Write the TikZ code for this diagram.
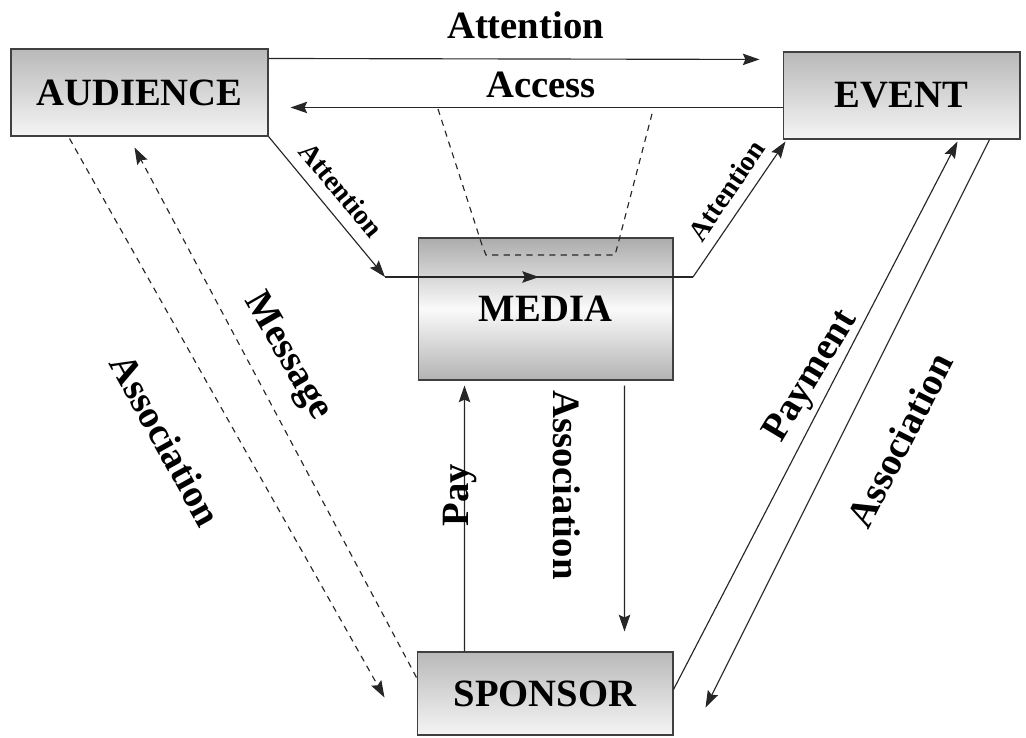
\documentclass[tikz,border=0pt]{standalone}
\usepackage{fontspec}
\setmainfont{Liberation Serif}
\usetikzlibrary{arrows.meta,calc}
\tikzset{
  box/.style={
    draw=black!75,
    line width=0.6pt,
    shading=axis,
    top color=gray!55,
    bottom color=gray!8,
    inner sep=0pt,
    font=\fontsize{22}{26}\selectfont\bfseries
  },
  box-media/.style={
    box,
    top color=gray!65,
    bottom color=gray!60,
    middle color=gray!4
  },
  arr/.style={
    draw=black!85,
    line width=0.65pt,
    -{Stealth[length=9.5pt,width=6.5pt,inset=1.5pt]}
  },
  plain/.style={draw=black!85, line width=0.65pt},
  dash-line/.style={dash pattern=on 3.5pt off 3pt},
  lbl/.style={inner sep=1pt, font=\fontsize{22}{26}\selectfont\bfseries},
  lbl-small/.style={inner sep=1pt, font=\fontsize{16}{19}\selectfont\bfseries}
}

\begin{document}
\begin{tikzpicture}[x=0.02cm, y=-0.02cm]
  \useasboundingbox (0,0) rectangle (1026,737);

  % boxes
  \node[box, minimum width=5.14cm, minimum height=1.74cm] (audience) at (139.5,92.5) {AUDIENCE};
  \node[box, minimum width=4.74cm, minimum height=1.74cm] (event) at (901.5,95.5) {EVENT};
  \node[box-media, minimum width=5.1cm, minimum height=2.84cm] (media) at (545.5,309) {MEDIA};
  \node[box, minimum width=5.12cm, minimum height=1.66cm] (sponsor) at (545,693.5) {SPONSOR};

  % top arrows
  \draw[arr, shorten >=0.46cm] ($(audience.north east)+(0,10)$) -- ($(event.north west)+(0,8)$)
    node[lbl, midway, above=0.36cm] (lblattn) {Attention};
  \draw[arr, shorten >=0.44cm] ($(event.north west)+(0,56)$) -- ($(audience.north east)+(0,59)$)
    node[lbl, pos=0.47, above=0.14cm] (lblaccess) {Access};

  % access funnel
  \draw[plain, dash-line] (438,109) -- (482,245) -- (486,255) -- (615,255) -- (618,244) -- (653,110);

  % attention through media
  \coordinate (mleft) at (385,277);
  \coordinate (mright) at (693,277);
  \draw[arr] (audience.south east) -- node[lbl-small, sloped, pos=0.48, above=0.2cm] (lblattnl) {Attention} (mleft);
  \draw[plain] (mleft) -- (mright);
  \draw[arr] (mleft) -- ($(mleft)!0.5!(mright)$);
  \draw[arr] (mright) -- node[lbl-small, sloped, pos=0.55, above=0.18cm] (lblattnr) {Attention} ($(event.south west)+(3,2)$);

  % audience - sponsor
  \draw[arr, dash-line] ($(audience.south west)+(59,2)$) -- ($(sponsor.west)+(-32,4)$);
  \draw[arr, dash-line] ($(sponsor.north west)+(0,26)$) -- ($(audience.south west)+(124,11)$);
  \node[lbl, rotate=-61] (lblassocl) at (166,440) {Association};
  \node[lbl, rotate=-60] (lblmsg) at (287,357) {Message};

  % media - sponsor
  \draw[arr] ($(sponsor.north west)+(48,0)$) -- ($(media.south west)+(47,5)$);
  \draw[arr] ($(media.south west)+(207,5)$) -- ($(sponsor.north west)+(208,-20)$);
  \node[lbl, rotate=90] (lblpay) at (460,495) {Pay};
  \node[lbl, rotate=-90] (lblassocm) at (567,485) {Association};

  % event - sponsor
  \draw[arr] ($(sponsor.north east)+(0,38)$) -- ($(event.south west)+(175,2)$);
  \draw[arr] ($(event.south west)+(207,0)$) -- ($(sponsor.north east)+(32,56)$);
  \node[lbl, rotate=59] (lblpaym) at (812,377) {Payment};
  \node[lbl, rotate=63] (lblassocr) at (900,440) {Association};
\end{tikzpicture}
\end{document}
